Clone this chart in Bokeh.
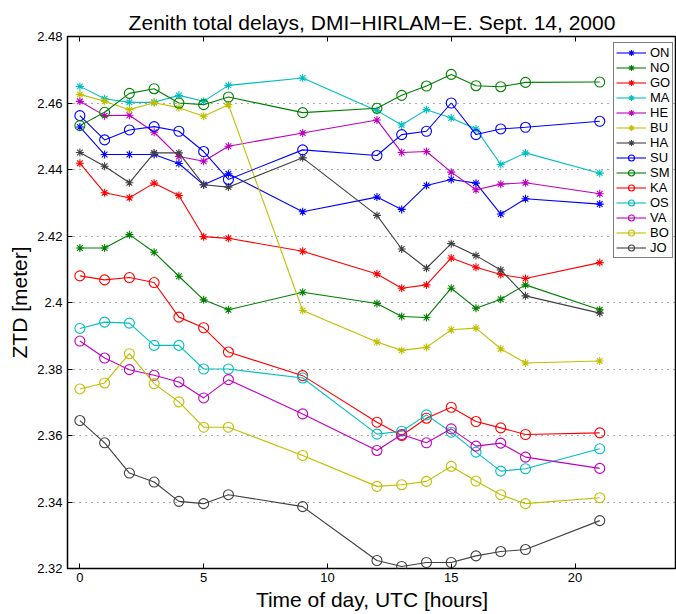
from bokeh.plotting import figure
from bokeh.models import (Range1d, FixedTicker, LinearAxis, Legend, LegendItem, Title)
from bokeh.embed import file_html
from bokeh.resources import INLINE

# ---- data ----
hours = [0, 1, 2, 3, 4, 5, 6, 9, 12, 13, 14, 15, 16, 17, 18, 21]

stations = ["ON", "NO", "GO", "MA", "HE", "BU", "HA",
            "SU", "SM", "KA", "OS", "VA", "BO", "JO"]

ON = [2.4528, 2.4445, 2.4445, 2.4445, 2.4418, 2.4354, 2.4387, 2.4273, 2.4317, 2.4280, 2.4352, 2.4370, 2.4359, 2.4266, 2.4312, 2.4296]
NO = [2.4164, 2.4164, 2.4204, 2.4151, 2.4079, 2.4008, 2.3978, 2.4031, 2.3997, 2.3958, 2.3955, 2.4043, 2.3983, 2.4010, 2.4053, 2.3978]
GO = [2.4419, 2.4330, 2.4315, 2.4359, 2.4322, 2.4198, 2.4193, 2.4154, 2.4086, 2.4043, 2.4053, 2.4134, 2.4106, 2.4084, 2.4072, 2.4120]
MA = [2.4650, 2.4613, 2.4602, 2.4602, 2.4623, 2.4605, 2.4653, 2.4675, 2.4577, 2.4534, 2.4580, 2.4555, 2.4522, 2.4415, 2.4450, 2.4389]
HE = [2.4605, 2.4562, 2.4563, 2.4512, 2.4439, 2.4425, 2.4470, 2.4510, 2.4549, 2.4451, 2.4454, 2.4392, 2.4339, 2.4356, 2.4360, 2.4327]
BU = [2.4626, 2.4605, 2.4580, 2.4601, 2.4586, 2.4560, 2.4595, 2.3976, 2.3881, 2.3856, 2.3865, 2.3918, 2.3923, 2.3861, 2.3818, 2.3824]
HA = [2.4451, 2.4410, 2.4360, 2.4450, 2.4450, 2.4354, 2.4347, 2.4435, 2.4262, 2.4161, 2.4103, 2.4177, 2.4141, 2.4098, 2.4020, 2.3968]
SU = [2.4562, 2.4489, 2.4519, 2.4529, 2.4515, 2.4454, 2.4370, 2.4459, 2.4442, 2.4505, 2.4515, 2.4600, 2.4505, 2.4522, 2.4527, 2.4545]
SM = [2.4532, 2.4572, 2.4629, 2.4643, 2.4600, 2.4595, 2.4618, 2.4571, 2.4584, 2.4623, 2.4651, 2.4686, 2.4652, 2.4649, 2.4662, 2.4663]
KA = [2.4080, 2.4068, 2.4075, 2.4060, 2.3956, 2.3924, 2.3851, 2.3780, 2.3640, 2.3600, 2.3652, 2.3685, 2.3642, 2.3623, 2.3603, 2.3608]
OS = [2.3922, 2.3941, 2.3938, 2.3871, 2.3871, 2.3800, 2.3800, 2.3773, 2.3604, 2.3613, 2.3662, 2.3610, 2.3550, 2.3493, 2.3500, 2.3560]
VA = [2.3884, 2.3833, 2.3798, 2.3781, 2.3761, 2.3713, 2.3768, 2.3665, 2.3555, 2.3603, 2.3578, 2.3620, 2.3568, 2.3577, 2.3535, 2.3501]
BO = [2.3740, 2.3758, 2.3846, 2.3756, 2.3701, 2.3625, 2.3625, 2.3540, 2.3447, 2.3452, 2.3462, 2.3507, 2.3463, 2.3422, 2.3395, 2.3413]
JO = [2.3645, 2.3578, 2.3487, 2.3460, 2.3402, 2.3395, 2.3422, 2.3386, 2.3224, 2.3206, 2.3218, 2.3218, 2.3238, 2.3251, 2.3257, 2.3344]

series = [ON, NO, GO, MA, HE, BU, HA, SU, SM, KA, OS, VA, BO, JO]

y_ticks = [2.32, 2.34, 2.36, 2.38, 2.40, 2.42, 2.44, 2.46, 2.48]
y_tick_labels = ["2.32", "2.34", "2.36", "2.38", "2.4", "2.42", "2.44", "2.46", "2.48"]
x_ticks = [0, 5, 10, 15, 20]

title_text = "Zenith total delays, DMI\u2212HIRLAM\u2212E. Sept. 14, 2000"
x_label = "Time of day, UTC [hours]"
y_label = "ZTD [meter]"

# ---- style ----
color_cycle = ["#0000FF", "#008000", "#FF0000", "#00BFBF", "#BF00BF", "#BFBF00", "#404040"]
FONT = "Liberation Sans"

p = figure(width=676, height=614, output_backend="svg", toolbar_location=None,
           x_range=Range1d(-0.5, 24.1), y_range=Range1d(2.32, 2.48),
           min_border_left=67, min_border_right=0, min_border_top=36,
           min_border_bottom=46, background_fill_color="white",
           border_fill_color="white")

p.outline_line_color = "black"
p.outline_line_width = 1.5

p.title = Title(text=title_text, align="center", text_font=FONT,
                text_font_size="21px", text_font_style="normal",
                text_color="black", standoff=6)

# axes
xa = p.xaxis[0]
ya = p.yaxis[0]
xa.ticker = FixedTicker(ticks=x_ticks)
ya.ticker = FixedTicker(ticks=y_ticks)
ya.major_label_overrides = {t: s for t, s in zip(y_ticks, y_tick_labels)}
for ax in (xa, ya):
    ax.axis_line_color = None
    ax.major_tick_in = 5
    ax.major_tick_out = 0
    ax.major_tick_line_color = "black"
    ax.minor_tick_line_color = None
    ax.major_label_text_font = FONT
    ax.major_label_text_font_size = "13px"
    ax.major_label_text_color = "black"
    ax.axis_label_text_font = FONT
    ax.axis_label_text_font_size = "21px"
    ax.axis_label_text_font_style = "normal"
    ax.axis_label_text_color = "black"
xa.axis_label = x_label
ya.axis_label = y_label
xa.major_label_standoff = 4
xa.axis_label_standoff = 3
ya.major_label_standoff = 5
ya.axis_label_standoff = 3

# top axis (ticks only)
top = LinearAxis(ticker=FixedTicker(ticks=x_ticks), axis_line_color=None,
                 major_tick_in=5, major_tick_out=0, minor_tick_line_color=None,
                 major_label_text_font_size="1px", major_label_text_color=None,
                 major_label_standoff=0)
p.add_layout(top, "above")

# grid
p.xgrid.grid_line_color = None
p.ygrid.ticker = FixedTicker(ticks=y_ticks[1:-1])
p.ygrid.grid_line_color = "#555555"
p.ygrid.grid_line_dash = "1 5"
p.ygrid.grid_line_width = 1

items = []
for i, (name, vals) in enumerate(zip(stations, series)):
    c = color_cycle[i % 7]
    lr = p.line(hours, vals, line_color=c, line_width=1.1)
    if i < 7:
        sr = p.scatter(hours, vals, marker="asterisk", size=8, line_color=c, line_width=1.1)
    else:
        sr = p.scatter(hours, vals, marker="circle", size=10, line_color=c,
                       fill_color=None, line_width=1.1)
    items.append(LegendItem(label=name, renderers=[lr, sr]))

legend = Legend(items=items, location=(546, 310), orientation="vertical",
                spacing=0, padding=2, margin=0, label_height=15, glyph_height=15,
                glyph_width=30, label_standoff=4, label_text_font=FONT,
                label_text_font_size="13px", label_text_color="black",
                border_line_color="black", border_line_width=1.5,
                background_fill_color="white", background_fill_alpha=1.0)
p.add_layout(legend)

open("out.html", "w").write(file_html(p, INLINE))
